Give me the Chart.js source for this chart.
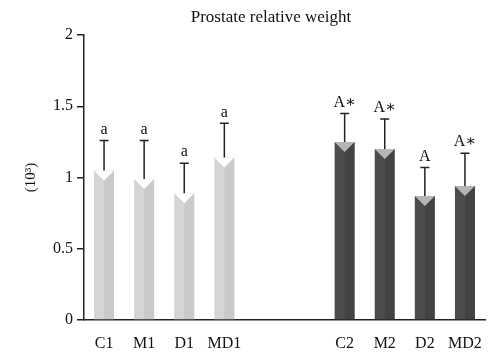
<!DOCTYPE html>
<html>
<head>
<meta charset="utf-8">
<script src="https://cdn.jsdelivr.net/npm/chart.js@4/dist/chart.umd.min.js"></script>
<style>
  html, body { margin: 0; padding: 0; background: #fff; }
  #wrap { width: 500px; height: 363px; }
</style>
</head>
<body>
<div id="wrap"><canvas id="myChart" width="500" height="363"></canvas></div>
<script>
// groups, with two empty slots between the two series of bars
var categories = ['C1', 'M1', 'D1', 'MD1', '', '', 'C2', 'M2', 'D2', 'MD2'];
var means      = [1.05, 0.99, 0.89, 1.14, null, null, 1.25, 1.20, 0.87, 0.94];
var errors     = [0.21, 0.27, 0.21, 0.24, null, null, 0.20, 0.21, 0.20, 0.23];
var letters    = ['a', 'a', 'a', 'a', '', '', 'A\u2217', 'A\u2217', 'A', 'A\u2217'];
var yTicks     = [0, 0.5, 1, 1.5, 2];

var serif = '"Liberation Serif", "DejaVu Serif", serif';
var lightBar = '#d5d5d5';
var darkBar = '#4d4d4d';

// bar colour: light for the first group, dark for the second
var barColors = categories.map(function (c, i) { return i < 4 ? lightBar : darkBar; });

// draws the bar shading, top notch, error bars, letters and the title
var extras = {
    id: 'extras',
    afterDatasetsDraw: function (chart) {
        var ctx = chart.ctx;
        var meta = chart.getDatasetMeta(0);
        var y = chart.scales.y;
        ctx.save();
        meta.data.forEach(function (bar, i) {
            if (means[i] === null) return;
            var half = bar.width / 2;
            var left = bar.x - half, right = bar.x + half;
            var light = i < 4;

            // darker right half
            ctx.fillStyle = light ? 'rgba(0,0,0,0.05)' : 'rgba(0,0,0,0.12)';
            ctx.fillRect(bar.x, bar.y, half, bar.base - bar.y);

            // V notch at the top of the bar
            ctx.fillStyle = light ? '#ffffff' : '#b5b5b5';
            ctx.beginPath();
            ctx.moveTo(left, bar.y);
            ctx.lineTo(right, bar.y);
            ctx.lineTo(bar.x, bar.y + 10);
            ctx.closePath();
            ctx.fill();

            // error bar
            var top = y.getPixelForValue(means[i] + errors[i]);
            ctx.strokeStyle = '#222';
            ctx.lineWidth = 1.5;
            ctx.beginPath();
            ctx.moveTo(bar.x, bar.y);
            ctx.lineTo(bar.x, top);
            ctx.moveTo(bar.x - 4.5, top);
            ctx.lineTo(bar.x + 4.5, top);
            ctx.stroke();

            // significance letter
            ctx.fillStyle = '#111';
            ctx.font = '16px ' + serif;
            ctx.textAlign = 'center';
            ctx.textBaseline = 'bottom';
            ctx.fillText(letters[i], bar.x, top - 3);
        });

        // chart title
        ctx.fillStyle = '#111';
        ctx.font = '17px ' + serif;
        ctx.textAlign = 'center';
        ctx.textBaseline = 'middle';
        ctx.fillText('Prostate relative weight', 271, 18);
        ctx.restore();
    }
};

var ctx = document.getElementById('myChart').getContext('2d');
var myChart = new Chart(ctx, {
    type: 'bar',
    data: {
        labels: categories,
        datasets: [{
            label: 'Prostate relative weight',
            data: means,
            backgroundColor: barColors,
            borderWidth: 0,
            categoryPercentage: 1,
            barPercentage: 0.5
        }]
    },
    options: {
        responsive: false,
        animation: false,
        layout: { padding: { top: 35, right: 15, left: 0, bottom: 0 } },
        plugins: {
            legend: { display: false },
            tooltip: { enabled: false },
            title: { display: false }
        },
        scales: {
            x: {
                grid: { display: false },
                border: { display: true, color: '#222', width: 1.5 },
                ticks: { color: '#111', font: { family: serif, size: 16 }, padding: 6, maxRotation: 0, autoSkip: false },
                afterFit: function (scale) { scale.height = 43; }
            },
            y: {
                min: 0,
                max: 2,
                afterBuildTicks: function (scale) {
                    scale.ticks = yTicks.map(function (v) { return { value: v }; });
                },
                grid: { drawOnChartArea: false, tickLength: 7, color: '#222', lineWidth: 1.5 },
                border: { display: true, color: '#222', width: 1.5 },
                ticks: {
                    color: '#111',
                    font: { family: serif, size: 16 },
                    padding: 4,
                    callback: function (value) { return String(value); }
                },
                title: {
                    display: true,
                    text: '(10\u00B3)',
                    color: '#111',
                    font: { family: serif, size: 15 },
                    padding: { top: 22, bottom: 0 }
                },
                afterFit: function (scale) { scale.width = 84; }
            }
        }
    },
    plugins: [extras]
});
</script>
</body>
</html>
